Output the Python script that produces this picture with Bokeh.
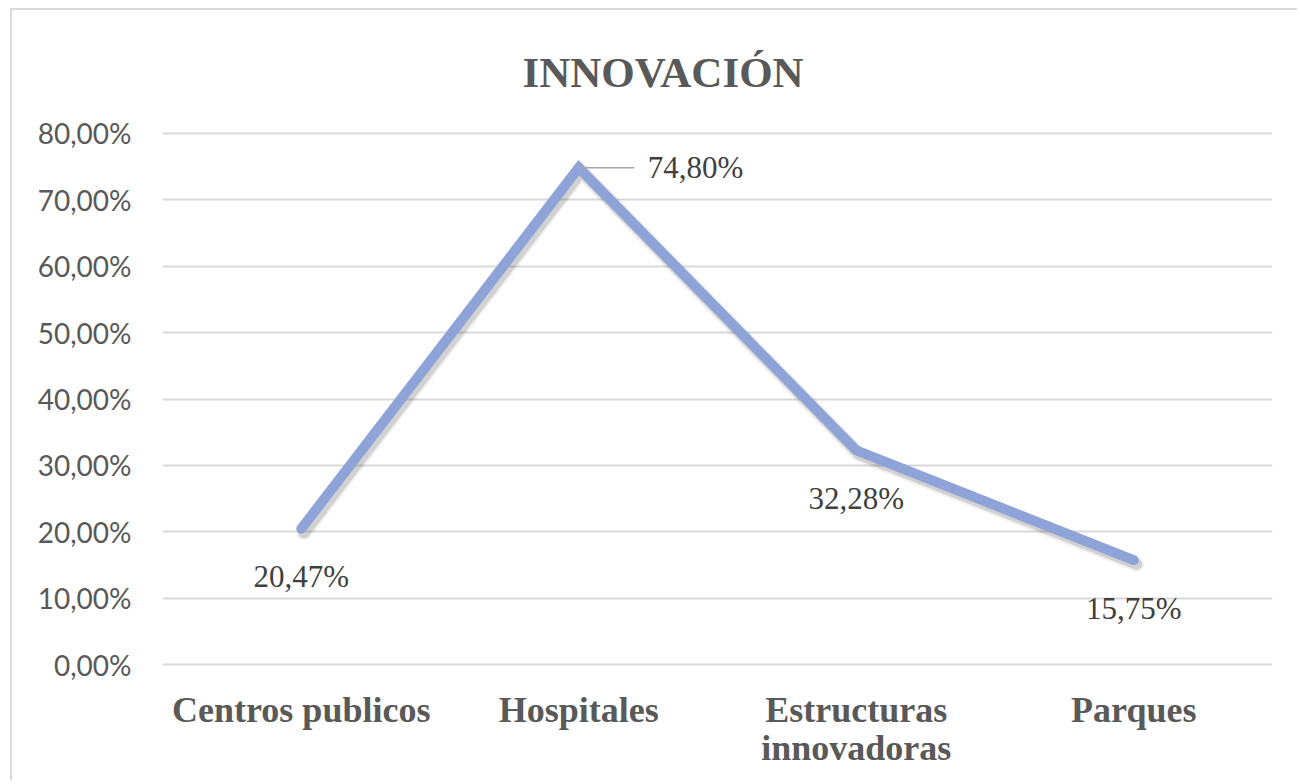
from bokeh.plotting import figure
from bokeh.models import FactorRange, Range1d, FixedTicker, CDSView, IndexFilter, ColumnDataSource
from bokeh.transform import dodge
from bokeh.core.properties import value
from bokeh.embed import file_html
from bokeh.resources import INLINE

title_text = "INNOVACIÓN"
categories = ["Centros publicos", "Hospitales", "Estructuras\ninnovadoras", "Parques"]
values = [20.47, 74.80, 32.28, 15.75]
value_labels = ["20,47%", "74,80%", "32,28%", "15,75%"]
y_ticks = [0, 10, 20, 30, 40, 50, 60, 70, 80]
y_tick_labels = ["0,00%", "10,00%", "20,00%", "30,00%", "40,00%", "50,00%", "60,00%", "70,00%", "80,00%"]

SERIF = "Liberation Serif"
SANS = "Lato"

src = ColumnDataSource(dict(cat=categories, val=values, label=value_labels))

p = figure(
    x_range=FactorRange(*categories),
    y_range=Range1d(-0.25, 80.25),
    width=1287, height=772,
    output_backend="svg", toolbar_location=None,
    min_border_left=150, min_border_right=27,
    min_border_top=121, min_border_bottom=116,
    title=title_text,
)
p.styles = {"margin-left": "10px", "margin-top": "8px",
            "border-left": "2px solid #d9d9d9", "border-top": "2px solid #d9d9d9"}

p.title.text_font = SERIF
p.title.text_font_style = "bold"
p.title.text_font_size = "43px"
p.title.text_color = "#595959"
p.title.align = "left"
p.title.offset = 360
p.title.vertical_align = "bottom"
p.title.standoff = 71

p.outline_line_color = None
p.background_fill_color = "white"
p.border_fill_color = "white"

p.xgrid.grid_line_color = None
p.ygrid.grid_line_color = "#d9d9d9"
p.ygrid.grid_line_width = 2
p.ygrid.ticker = FixedTicker(ticks=y_ticks)

p.yaxis.ticker = FixedTicker(ticks=y_ticks)
p.yaxis.major_label_overrides = {t: l for t, l in zip(y_ticks, y_tick_labels)}
p.yaxis.axis_line_color = None
p.yaxis.major_tick_line_color = None
p.yaxis.minor_tick_line_color = None
p.yaxis.major_tick_out = 0
p.yaxis.major_label_standoff = 31
p.yaxis.major_label_text_font = SANS
p.yaxis.major_label_text_font_size = "28px"
p.yaxis.major_label_text_color = "#595959"

p.xaxis.axis_line_color = None
p.xaxis.major_tick_line_color = None
p.xaxis.major_tick_out = 0
p.xaxis.major_label_standoff = 23
p.xaxis.major_label_text_font = SERIF
p.xaxis.major_label_text_font_style = "bold"
p.xaxis.major_label_text_font_size = "36px"
p.xaxis.major_label_text_color = "#595959"
p.xaxis.major_label_text_line_height = 0.97

# soft shadow
for w, a in [(15, 0.06), (11, 0.13)]:
    p.line(x=dodge("cat", 0.01, range=p.x_range), y=dodge("val", -0.6, range=p.y_range),
           source=src, line_color="black", line_alpha=a, line_width=w,
           line_join="miter", line_cap="round")

p.line(x="cat", y="val", source=src, line_color="#8EA3D8", line_width=10,
       line_join="miter", line_cap="round")

# leader line for the moved label
p.segment(x0="cat", y0="val", x1=dodge("cat", 0.2, range=p.x_range), y1="val",
          source=src, view=CDSView(filter=IndexFilter([1])),
          line_color="#a6a6a6", line_width=1.5)

p.text(x="cat", y="val", text="label", source=src, view=CDSView(filter=IndexFilter([0, 2, 3])),
       text_font=value(SERIF), text_font_size="31px", text_color="#404040",
       text_align="center", text_baseline="middle", y_offset=48)

p.text(x="cat", y="val", text="label", source=src, view=CDSView(filter=IndexFilter([1])),
       text_font=value(SERIF), text_font_size="31px", text_color="#404040",
       text_align="left", text_baseline="middle", x_offset=69)

open("out.html", "w").write(file_html(p, INLINE))
